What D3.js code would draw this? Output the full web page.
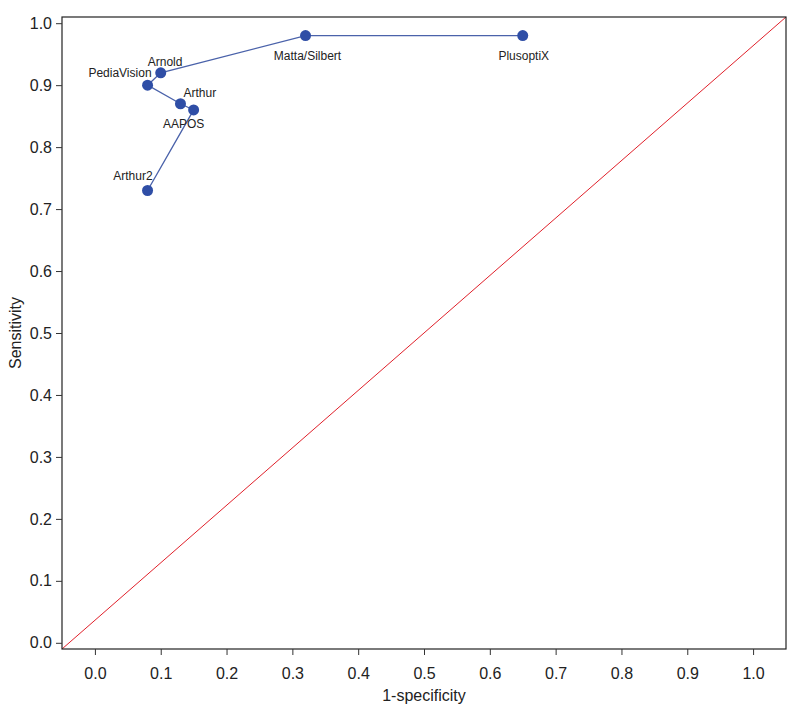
<!DOCTYPE html>
<html>
<head>
<meta charset="utf-8">
<script src="https://cdn.jsdelivr.net/npm/d3@7"></script>
<style>
  body { margin: 0; background: #fff; }
  svg text { font-family: "Liberation Sans", Arial, sans-serif; }
</style>
</head>
<body>
<div id="chart"></div>
<script>
// ROC points, in line order
const names = ['Arthur2', 'AAPOS', 'Arthur', 'PediaVision', 'Arnold', 'Matta/Silbert', 'PlusoptiX'];
const specComp = [0.08, 0.15, 0.13, 0.08, 0.10, 0.32, 0.65];
const sens = [0.73, 0.86, 0.87, 0.90, 0.92, 0.98, 0.98];
const xTicks = [0, 0.1, 0.2, 0.3, 0.4, 0.5, 0.6, 0.7, 0.8, 0.9, 1.0];
const yTicks = [0, 0.1, 0.2, 0.3, 0.4, 0.5, 0.6, 0.7, 0.8, 0.9, 1.0];

const width = 800;
const height = 711;
const margin = { top: 17, right: 14, bottom: 62, left: 62 };

const x = d3.scaleLinear()
    .domain([-0.05, 1.05])
    .range([margin.left, width - margin.right]);

const y = d3.scaleLinear()
    .domain([-0.01, 1.01])
    .range([height - margin.bottom, margin.top]);

const svg = d3.select("#chart")
    .append("svg")
    .attr("width", width)
    .attr("height", height);

// reference diagonal, corner to corner
svg.append("line")
    .attr("x1", x(x.domain()[0]))
    .attr("y1", y(y.domain()[0]))
    .attr("x2", x(x.domain()[1]))
    .attr("y2", y(y.domain()[1]))
    .attr("stroke", "#e0202a")
    .attr("stroke-width", 1);

// frame
svg.append("rect")
    .attr("x", margin.left)
    .attr("y", margin.top)
    .attr("width", width - margin.left - margin.right)
    .attr("height", height - margin.top - margin.bottom)
    .attr("fill", "none")
    .attr("stroke", "#222")
    .attr("stroke-width", 1.2);

// X axis
const xAxis = svg.append("g")
    .attr("transform", `translate(0,${height - margin.bottom})`)
    .call(d3.axisBottom(x).tickValues(xTicks).tickFormat(d3.format(".1f")).tickSize(6).tickPadding(13));
xAxis.select(".domain").remove();
xAxis.selectAll("line").attr("stroke", "#333");
xAxis.selectAll("text").style("font-size", "16px").attr("fill", "#222");

// Y axis
const yAxis = svg.append("g")
    .attr("transform", `translate(${margin.left},0)`)
    .call(d3.axisLeft(y).tickValues(yTicks).tickFormat(d3.format(".1f")).tickSize(6).tickPadding(4));
yAxis.select(".domain").remove();
yAxis.selectAll("line").attr("stroke", "#333");
yAxis.selectAll("text").style("font-size", "16px").attr("fill", "#222");

// axis titles
svg.append("text")
    .attr("x", (margin.left + width - margin.right) / 2)
    .attr("y", 701)
    .attr("text-anchor", "middle")
    .style("font-size", "16px")
    .attr("fill", "#222")
    .text("1-specificity");

svg.append("text")
    .attr("transform", `translate(21,${(margin.top + height - margin.bottom) / 2}) rotate(-90)`)
    .attr("text-anchor", "middle")
    .style("font-size", "16px")
    .attr("fill", "#222")
    .text("Sensitivity");

// ROC line
const line = d3.line()
    .x((d, i) => x(specComp[i]))
    .y((d, i) => y(sens[i]));

svg.append("path")
    .datum(names)
    .attr("fill", "none")
    .attr("stroke", "#4a62aa")
    .attr("stroke-width", 1.3)
    .attr("d", line);

svg.selectAll("circle")
    .data(names)
    .enter().append("circle")
    .attr("cx", (d, i) => x(specComp[i]))
    .attr("cy", (d, i) => y(sens[i]))
    .attr("r", 5.5)
    .attr("fill", "#2f4ea6");

// label offsets (dx, dy, anchor)
const labelPos = {
    'Arthur2': [5, -10, 'end'],
    'AAPOS': [-10, 18, 'middle'],
    'Arthur': [3, -7, 'start'],
    'PediaVision': [4, -8, 'end'],
    'Arnold': [-13, -7, 'start'],
    'Matta/Silbert': [2, 24, 'middle'],
    'PlusoptiX': [1, 24, 'middle']
};

svg.selectAll(".pt-label")
    .data(names)
    .enter().append("text")
    .attr("class", "pt-label")
    .attr("x", (d, i) => x(specComp[i]) + labelPos[d][0])
    .attr("y", (d, i) => y(sens[i]) + labelPos[d][1])
    .attr("text-anchor", d => labelPos[d][2])
    .style("font-size", "12px")
    .attr("fill", "#222")
    .text(d => d);
</script>
</body>
</html>
